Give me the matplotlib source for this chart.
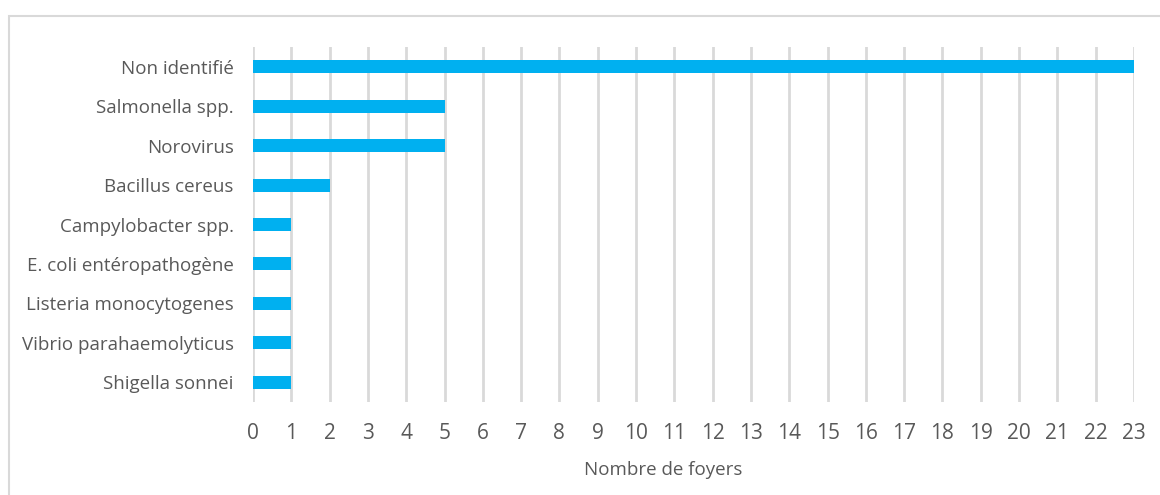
import matplotlib
matplotlib.use("Agg")
import matplotlib.pyplot as plt
from matplotlib.patches import Rectangle
import numpy as np

# données
categories = ['Non identifié', 'Salmonella spp.', 'Norovirus', 'Bacillus cereus',
              'Campylobacter spp.', 'E. coli entéropathogène', 'Listeria monocytogenes',
              'Vibrio parahaemolyticus', 'Shigella sonnei']
foyers = [23, 5, 5, 2, 1, 1, 1, 1, 1]
x_ticks = list(range(0, 24))

plt.rcParams['font.family'] = ['Open Sans', 'DejaVu Sans']
text_col = '#595959'
grid_col = '#D9D9D9'
bar_col = '#00B0F0'

fig = plt.figure(figsize=(11.6, 4.95), dpi=100)
# cadre du graphique
fig.patches.append(Rectangle((9 / 1160, -0.1), 1.2, 1 - 16 / 495 + 0.1, transform=fig.transFigure,
                             fill=False, edgecolor=grid_col, linewidth=1.5))

ax = fig.add_axes([253 / 1160, 1 - 402 / 495, (1134 - 253) / 1160, (402 - 47) / 495])
y = np.arange(len(categories))
ax.barh(y, foyers, height=0.33, color=bar_col, zorder=3)
ax.set_ylim(len(categories) - 0.5, -0.5)
ax.set_xlim(0, 23)
ax.set_xticks(x_ticks)
ax.set_yticks(y)
ax.set_yticklabels(categories)
ax.grid(axis='x', color=grid_col, linewidth=2, zorder=0)
for s in ax.spines.values():
    s.set_visible(False)
ax.tick_params(axis='x', length=0, pad=15, labelsize=15, labelcolor=text_col)
ax.tick_params(axis='y', length=0, pad=14, labelsize=13.5, labelcolor=text_col)
ax.set_xlabel('Nombre de foyers', fontsize=13.5, color=text_col)
# titre d'axe centré sur la zone de traçage complète
ax.xaxis.set_label_coords((663.5 - 253) / 881, -(470 - 402) / 355, transform=ax.transAxes)
ax.xaxis.label.set_va('center')

fig.savefig('out.png', dpi=100)
